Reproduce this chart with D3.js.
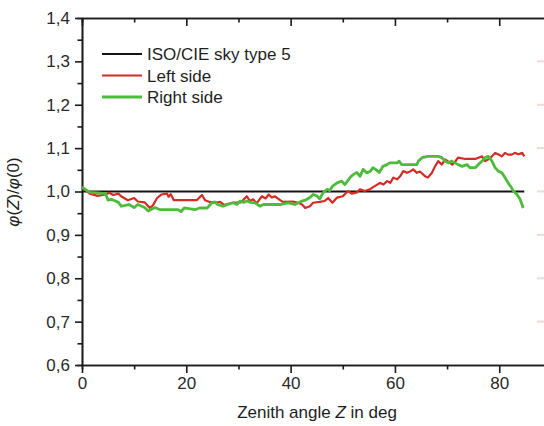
<!DOCTYPE html>
<html>
<head>
<meta charset="utf-8">
<script src="https://cdn.jsdelivr.net/npm/d3@7"></script>
<style>
  body { margin: 0; background: #fff; }
  svg { display: block; }
  .axisGraph path, .axisGraph line { stroke: #1a1a1a; stroke-width: 1.6px; }
  .axisGraph text { font-family: "Liberation Sans", Arial, sans-serif; font-size: 17px; fill: #2a2a2a; }
  .labelGraph { font-family: "Liberation Sans", Arial, sans-serif; font-size: 17px; fill: #1e1e1e; }
</style>
</head>
<body>
<svg id="chart" width="544" height="426"></svg>
<script>

// Zenith angle (deg) and relative luminance phi(Z)/phi(0)
var referenceZ   = [0, 84.8];
var referencePhi = [1.0, 1.0];

var leftZ = [0, 0.5, 1.5, 3, 4.5, 5.2, 6, 7, 7.5, 8.8, 10, 10.7, 12, 13, 13.6, 14.4, 15.2, 16.3, 16.6, 17,
  17.6, 20, 22, 23, 23.6, 24.5, 25.5, 26.5, 27.2, 28.8, 30.5, 31.6, 32.2, 32.8, 33.5, 34.5, 35.2, 35.8, 36.4, 37,
  38, 38.5, 40.5, 41.4, 42.2, 42.8, 43.7, 44.3, 45.6, 46.5, 47.2, 48, 48.9, 50, 51, 51.7, 52.7, 53.3, 54.2, 55.2,
  55.8, 56.6, 57.1, 57.8, 58.5, 59.1, 59.7, 60.4, 61, 61.6, 62.3, 62.9, 63.5, 64.2, 64.8, 65.8, 66.3, 67.1, 67.7, 68.3,
  69, 69.6, 70.3, 71, 71.5, 72.1, 73.5, 75.4, 76, 76.7, 77.3, 77.9, 78.6, 79.2, 79.8, 80.5, 81.1, 81.7, 82.4, 83,
  83.7, 84.4, 84.8];
var leftPhi = [1.008, 1.005, 0.995, 0.99, 0.993, 0.997, 0.992, 0.995, 0.989, 0.98, 0.985, 0.977, 0.975, 0.962, 0.968, 0.985, 0.993, 0.995, 0.988, 0.994,
  0.98, 0.98, 0.98, 0.992, 0.98, 0.976, 0.974, 0.976, 0.969, 0.974, 0.975, 0.989, 0.978, 0.982, 0.973, 0.989, 0.984, 0.993, 0.986, 0.989,
  0.98, 0.976, 0.977, 0.974, 0.97, 0.962, 0.966, 0.974, 0.976, 0.978, 0.985, 0.974, 0.986, 0.989, 1.001, 0.995, 0.998, 1.005, 1.001, 1.005,
  1.01, 1.016, 1.02, 1.016, 1.024, 1.02, 1.032, 1.028, 1.035, 1.047, 1.043, 1.046, 1.051, 1.043, 1.046, 1.035, 1.032, 1.043, 1.058, 1.07,
  1.062, 1.074, 1.068, 1.062, 1.068, 1.078, 1.075, 1.075, 1.078, 1.081, 1.07, 1.074, 1.081, 1.089, 1.086, 1.081, 1.089, 1.085, 1.085, 1.089,
  1.086, 1.089, 1.081];

var rightZ = [0, 0.5, 1.5, 3, 4.5, 5, 5.6, 7, 7.5, 9, 10, 10.7, 12, 12.7, 14, 15, 18.4, 19, 19.6, 21.7,
  22.5, 24, 24.9, 25.5, 26, 27, 28, 29, 29.7, 30.3, 31, 31.6, 32.3, 33.2, 34.1, 34.8, 36, 38, 39.5, 40.8,
  41.5, 42.2, 42.8, 43.7, 44.3, 45, 45.6, 46.2, 47, 47.5, 48, 48.9, 49.8, 50.4, 51.4, 52, 52.7, 53.3, 53.9, 54.6,
  55.2, 55.8, 56.4, 57, 57.7, 58.5, 59, 60.4, 60.8, 61.3, 64.2, 64.5, 65.2, 66.3, 68.3, 69, 69.6, 70.2, 70.9, 71.5,
  72.1, 72.9, 73.8, 74.4, 75.4, 76, 76.7, 77.3, 77.9, 78.6, 79.2, 79.8, 80.5, 81.1, 81.7, 82.4, 82.7, 83.4, 84, 84.6];
var rightPhi = [1.01, 1.006, 0.998, 0.997, 0.995, 0.98, 0.982, 0.975, 0.966, 0.97, 0.963, 0.97, 0.963, 0.955, 0.963, 0.958, 0.958, 0.954, 0.962, 0.958,
  0.962, 0.962, 0.974, 0.976, 0.97, 0.966, 0.97, 0.974, 0.97, 0.978, 0.975, 0.978, 0.975, 0.974, 0.966, 0.97, 0.97, 0.97, 0.974, 0.97,
  0.974, 0.978, 0.98, 0.986, 0.993, 0.99, 0.983, 0.997, 1.005, 1.002, 1.012, 1.02, 1.024, 1.016, 1.032, 1.039, 1.044, 1.035, 1.051, 1.043,
  1.046, 1.055, 1.05, 1.044, 1.058, 1.062, 1.066, 1.066, 1.07, 1.062, 1.062, 1.07, 1.078, 1.081, 1.081, 1.078, 1.07, 1.066, 1.07, 1.066,
  1.062, 1.058, 1.062, 1.055, 1.055, 1.062, 1.07, 1.078, 1.081, 1.07, 1.055, 1.047, 1.043, 1.032, 1.02, 1.008, 1.001, 0.993, 0.982, 0.962];

var xMajorTicks = [0, 20, 40, 60, 80];
var xMinorTicks = [10, 30, 50, 70, 90];
var yMajorTicks = [0.6, 0.7, 0.8, 0.9, 1.0, 1.1, 1.2, 1.3, 1.4];
var yMinorTicks = [0.65, 0.75, 0.85, 0.95, 1.05, 1.15, 1.25, 1.35];

var legendNames  = ["ISO/CIE sky type 5", "Left side", "Right side"];
var seriesColors = ["#141414", "#d42b25", "#4cbc3a"];

/************************************************************************************************************/

var svg = d3.select("#chart");
svg.margin = {left: 82, top: 18, zero: 365};
svg.width = 469.4;
svg.height = svg.margin.zero - svg.margin.top;

var x = d3.scaleLinear().domain([0, 90]).range([svg.margin.left, svg.margin.left + svg.width]);
var y = d3.scaleLinear().domain([0.6, 1.4]).range([svg.margin.zero, svg.margin.top]);

var comma = function(d){ return d3.format(".1f")(d).replace(".", ","); };

// faint marks at the cut right edge
svg.append("g").selectAll("line").data(yMajorTicks.slice(1, 8)).enter().append("line")
  .attr("x1", 537).attr("x2", 544)
  .attr("y1", function(d){ return y(d); }).attr("y2", function(d){ return y(d); })
  .attr("stroke", "#f1dada").attr("stroke-width", 2);

/************************************************************************************************************/
// axes: major + minor ticks, left/bottom outward, top inward

svg.append("g").attr("class", "axisGraph")
  .attr("transform", "translate(" + [svg.margin.left, 0] + ")")
  .call(d3.axisLeft(y).tickValues(yMinorTicks).tickSize(4.5).tickFormat(""));
svg.append("g").attr("class", "axisGraph")
  .attr("transform", "translate(" + [svg.margin.left, 0] + ")")
  .call(d3.axisLeft(y).tickValues(yMajorTicks).tickSize(7).tickSizeOuter(0).tickPadding(5).tickFormat(comma));

svg.append("g").attr("class", "axisGraph")
  .attr("transform", "translate(" + [0, svg.margin.zero] + ")")
  .call(d3.axisBottom(x).tickValues(xMinorTicks).tickSize(4.5).tickFormat(""));
svg.append("g").attr("class", "axisGraph")
  .attr("transform", "translate(" + [0, svg.margin.zero] + ")")
  .call(d3.axisBottom(x).tickValues(xMajorTicks).tickSize(8).tickSizeOuter(0).tickPadding(4).tickFormat(d3.format("d")));

svg.append("g").attr("class", "axisGraph")
  .attr("transform", "translate(" + [0, svg.margin.top] + ")")
  .call(d3.axisTop(x).tickValues(xMinorTicks).tickSize(-4.5).tickFormat(""));
svg.append("g").attr("class", "axisGraph")
  .attr("transform", "translate(" + [0, svg.margin.top] + ")")
  .call(d3.axisTop(x).tickValues(xMajorTicks).tickSize(-8).tickSizeOuter(0).tickFormat(""));

/************************************************************************************************************/
// curves

var line = d3.line()
  .x(function(d){ return x(d[0]); })
  .y(function(d){ return y(d[1]); });

var series = [
  {z: referenceZ, phi: referencePhi, width: 2.2},
  {z: leftZ, phi: leftPhi, width: 2.2},
  {z: rightZ, phi: rightPhi, width: 2.8}
];

series.forEach(function(s, i){
  svg.append("path")
    .datum(s.z.map(function(z, j){ return [z, s.phi[j]]; }))
    .attr("fill", "none")
    .attr("stroke", seriesColors[i])
    .attr("stroke-width", s.width)
    .attr("stroke-linejoin", "round")
    .attr("d", line);
});

/************************************************************************************************************/
// legend

var legend = svg.append("g").attr("transform", "translate(102,54)");
legendNames.forEach(function(name, i){
  legend.append("line")
    .attr("x1", 0).attr("x2", 40)
    .attr("y1", i * 21.5).attr("y2", i * 21.5)
    .attr("stroke", seriesColors[i])
    .attr("stroke-width", i === 2 ? 2.8 : 2.2);
  legend.append("text")
    .attr("class", "labelGraph")
    .attr("x", 45).attr("y", i * 21.5)
    .attr("dy", "0.36em")
    .text(name);
});

/************************************************************************************************************/
// axis titles

var xlabel = svg.append("text").attr("class", "labelGraph")
  .attr("x", 317).attr("y", 418).attr("text-anchor", "middle");
xlabel.append("tspan").text("Zenith angle ");
xlabel.append("tspan").attr("font-style", "italic").text("Z");
xlabel.append("tspan").text(" in deg");

var ylabel = svg.append("text").attr("class", "labelGraph")
  .attr("transform", "translate(19,192) rotate(-90)")
  .attr("text-anchor", "middle");
ylabel.append("tspan").attr("font-style", "italic").text("φ");
ylabel.append("tspan").text("(");
ylabel.append("tspan").attr("font-style", "italic").text("Z");
ylabel.append("tspan").text(")/");
ylabel.append("tspan").attr("font-style", "italic").text("φ");
ylabel.append("tspan").text("(0)");

</script>
</body>
</html>
